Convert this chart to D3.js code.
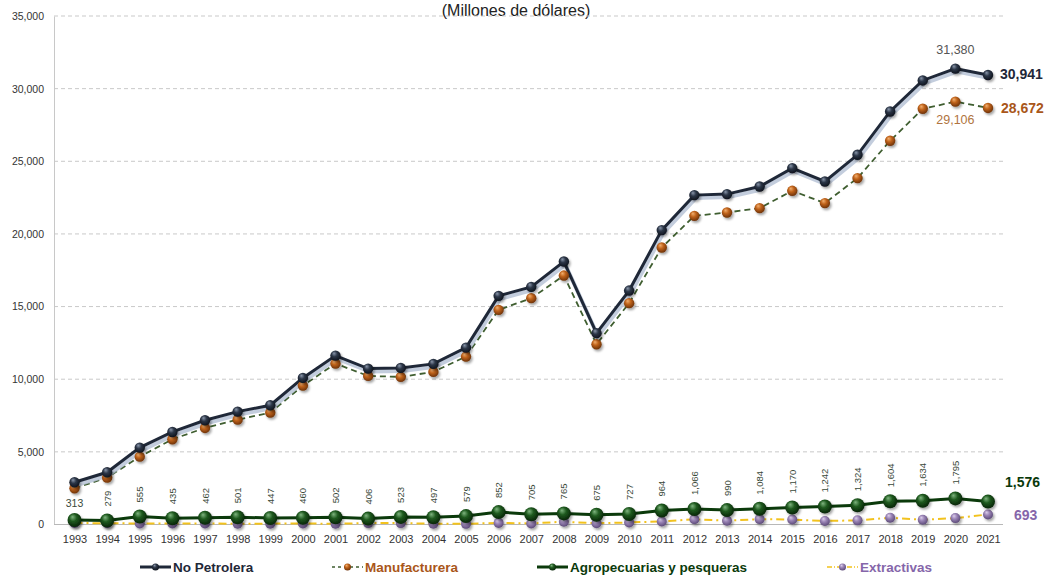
<!DOCTYPE html>
<html>
<head>
<meta charset="utf-8">
<script src="https://cdn.jsdelivr.net/npm/d3@7"></script>
<style>
  body { margin: 0; background: #fff; }
  svg { display: block; font-family: "Liberation Sans", Arial, sans-serif; }
</style>
</head>
<body>
<div id="chart"></div>
<script>
// data (millones de dólares)
const years = [1993, 1994, 1995, 1996, 1997, 1998, 1999, 2000, 2001, 2002, 2003, 2004, 2005, 2006,
  2007, 2008, 2009, 2010, 2011, 2012, 2013, 2014, 2015, 2016, 2017, 2018, 2019, 2020, 2021];
const noPetrolera = [2906, 3595, 5290, 6370, 7176, 7768, 8209, 10089, 11625, 10730, 10778, 11054, 12176, 15737,
  16357, 18099, 13168, 16102, 20262, 22672, 22741, 23264, 24531, 23609, 25447, 28430, 30565, 31380, 30941];
const manufacturera = [2493, 3223, 4669, 5868, 6646, 7218, 7700, 9559, 11074, 10227, 10158, 10503, 11557, 14773,
  15578, 17135, 12410, 15234, 19063, 21246, 21474, 21776, 22968, 22121, 23843, 26411, 28615, 29106, 28672];
const agropecuarias = [313, 279, 555, 435, 462, 501, 447, 460, 502, 406, 523, 497, 579, 852,
  705, 765, 675, 727, 964, 1066, 990, 1084, 1170, 1242, 1324, 1604, 1634, 1795, 1576];
const extractivas = [100, 90, 70, 70, 70, 55, 60, 70, 50, 95, 95, 55, 45, 110,
  75, 190, 85, 140, 210, 360, 260, 370, 340, 245, 285, 470, 325, 440, 693];
const yTicks = [0, 5000, 10000, 15000, 20000, 25000, 30000, 35000];
const legendNames = ["No Petrolera", "Manufacturera", "Agropecuarias y pesqueras", "Extractivas"];
const subtitle = "(Millones de dólares)";

const W = 1044, H = 579;
const fmt = d3.format(",");

const svg = d3.select("#chart").append("svg").attr("width", W).attr("height", H);
const defs = svg.append("defs");

// glossy ball gradients
function ball(id, light, base, dark) {
  const g = defs.append("radialGradient").attr("id", id)
    .attr("cx", "45%").attr("cy", "40%").attr("r", "60%").attr("fx", "35%").attr("fy", "28%");
  g.append("stop").attr("offset", "0%").attr("stop-color", light);
  g.append("stop").attr("offset", "45%").attr("stop-color", base);
  g.append("stop").attr("offset", "100%").attr("stop-color", dark);
}
ball("gNo", "#8a97ab", "#2c3647", "#0e131c");
ball("gMa", "#f2b070", "#c0631b", "#6e3208");
ball("gAg", "#7fb57f", "#1f5a1f", "#062406");
ball("gEx", "#ddd0ec", "#9a84b6", "#5c4a78");

const shadow = defs.append("filter").attr("id", "shadow").attr("x", "-30%").attr("y", "-30%")
  .attr("width", "160%").attr("height", "160%");
shadow.append("feDropShadow").attr("dx", 1.5).attr("dy", 2).attr("stdDeviation", 1.2)
  .attr("flood-color", "#000").attr("flood-opacity", 0.35);

const x = d3.scalePoint().domain(years).range([74.5, 988]);
const y = d3.scaleLinear().domain([0, 35000]).range([524.5, 16]);
const left = 54, right = 1003;

// subtitle (sits at the very top edge)
svg.append("text").attr("x", 516).attr("y", 16).attr("text-anchor", "middle")
  .attr("font-size", 16).attr("fill", "#222").text(subtitle);

// gridlines
svg.append("g").selectAll("line").data(yTicks.filter(d => d > 0)).join("line")
  .attr("x1", left).attr("x2", right).attr("y1", d => y(d)).attr("y2", d => y(d))
  .attr("stroke", "#c9c9c9").attr("stroke-dasharray", "4,3").attr("stroke-width", 1);

// y axis
const yAxis = svg.append("g").attr("transform", `translate(${left},0)`)
  .call(d3.axisLeft(y).tickValues(yTicks).tickFormat(fmt).tickSize(0).tickPadding(10));
yAxis.select(".domain").attr("stroke", "#c8c8c8");
yAxis.selectAll("text").attr("font-size", 10.5).attr("fill", "#333")
  .attr("font-family", "\"Liberation Sans\", Arial, sans-serif");

// baseline + x axis labels
svg.append("line").attr("x1", left).attr("x2", right).attr("y1", y(0)).attr("y2", y(0))
  .attr("stroke", "#b8b8b8");
const xAxis = svg.append("g").attr("transform", `translate(0,${y(0)})`)
  .call(d3.axisBottom(x).tickSize(0).tickPadding(11));
xAxis.select(".domain").remove();
xAxis.selectAll("text").attr("font-size", 11).attr("fill", "#333")
  .attr("font-family", "\"Liberation Sans\", Arial, sans-serif");

const line = d3.line().x((d, i) => x(years[i])).y(d => y(d));

// Extractivas
svg.append("path").datum(extractivas).attr("d", line).attr("fill", "none")
  .attr("stroke", "#f2c21e").attr("stroke-width", 2).attr("stroke-dasharray", "8,4,2,4");
// Agropecuarias
svg.append("path").datum(agropecuarias).attr("d", line).attr("fill", "none")
  .attr("stroke", "#0b3a0b").attr("stroke-width", 3);
// Manufacturera
svg.append("path").datum(manufacturera).attr("d", line).attr("fill", "none")
  .attr("stroke", "#3f5e30").attr("stroke-width", 1.8).attr("stroke-dasharray", "6,4");
// No Petrolera with soft shadow
svg.append("path").datum(noPetrolera).attr("d", line).attr("fill", "none")
  .attr("transform", "translate(1.5,3)")
  .attr("stroke", "#b4c0d4").attr("stroke-width", 4).attr("opacity", 0.8);
svg.append("path").datum(noPetrolera).attr("d", line).attr("fill", "none")
  .attr("stroke", "#1f2838").attr("stroke-width", 3);

function dots(values, r, fill) {
  svg.append("g").attr("filter", "url(#shadow)").selectAll("circle").data(values).join("circle")
    .attr("cx", (d, i) => x(years[i])).attr("cy", d => y(d)).attr("r", r)
    .attr("fill", fill);
}
dots(extractivas, 5, "url(#gEx)");
dots(agropecuarias, 7, "url(#gAg)");
dots(manufacturera, 5.2, "url(#gMa)");
dots(noPetrolera, 5.2, "url(#gNo)");

// agropecuarias value labels (all but the last, which is shown at the right)
const agLabels = svg.append("g").attr("font-size", 9.5).attr("fill", "#3a4a3a");
agropecuarias.slice(0, -1).forEach((v, i) => {
  const px = x(years[i]), py = y(v) - 14;
  if (i === 0) {
    agLabels.append("text").attr("x", px).attr("y", py + 1).attr("text-anchor", "middle")
      .attr("font-size", 10.5).text(fmt(v));
  } else {
    agLabels.append("text").attr("transform", `translate(${px + 3.5},${py}) rotate(-90)`)
      .attr("text-anchor", "start").text(fmt(v));
  }
});

// highlighted values
const last = years.length - 1, prev = years.length - 2;
svg.append("text").attr("x", x(years[prev])).attr("y", 54).attr("text-anchor", "middle")
  .attr("font-size", 12.5).attr("fill", "#555").text(fmt(noPetrolera[prev]));
svg.append("text").attr("x", x(years[prev])).attr("y", 124).attr("text-anchor", "middle")
  .attr("font-size", 12.5).attr("fill", "#b0743e").text(fmt(manufacturera[prev]));

const endLabels = [
  { v: noPetrolera[last], x: 1000, y: 79, c: "#1f2838" },
  { v: manufacturera[last], x: 1001, y: 113, c: "#a9561a" },
  { v: agropecuarias[last], x: 1005, y: 487, c: "#0b3a0b" },
  { v: extractivas[last], x: 1014, y: 520, c: "#8566aa" }
];
svg.append("g").selectAll("text").data(endLabels).join("text")
  .attr("x", d => d.x).attr("y", d => d.y).attr("font-size", 14).attr("font-weight", "bold")
  .attr("fill", d => d.c).text(d => fmt(d.v));

// legend
const legendItems = [
  { name: legendNames[0], x: 140, color: "#1f2838", line: "#1f2838", dash: null, w: 3, ball: "url(#gNo)" },
  { name: legendNames[1], x: 332, color: "#a9561a", line: "#3f5e30", dash: "3,3", w: 1.5, ball: "url(#gMa)" },
  { name: legendNames[2], x: 537, color: "#0b3a0b", line: "#0b3a0b", dash: null, w: 3, ball: "url(#gAg)" },
  { name: legendNames[3], x: 827, color: "#8566aa", line: "#f2c21e", dash: "5,2,1,2", w: 1.5, ball: "url(#gEx)" }
];
const lg = svg.append("g").selectAll("g").data(legendItems).join("g")
  .attr("transform", d => `translate(${d.x},567)`);
lg.append("line").attr("x1", 0).attr("x2", 31).attr("stroke", d => d.line)
  .attr("stroke-width", d => d.w).attr("stroke-dasharray", d => d.dash);
lg.append("circle").attr("cx", 15.5).attr("r", 3.5).attr("fill", d => d.ball);
lg.append("text").attr("x", 33).attr("y", 5).attr("font-size", 13.5).attr("font-weight", "bold")
  .attr("fill", d => d.color).text(d => d.name);
</script>
</body>
</html>
